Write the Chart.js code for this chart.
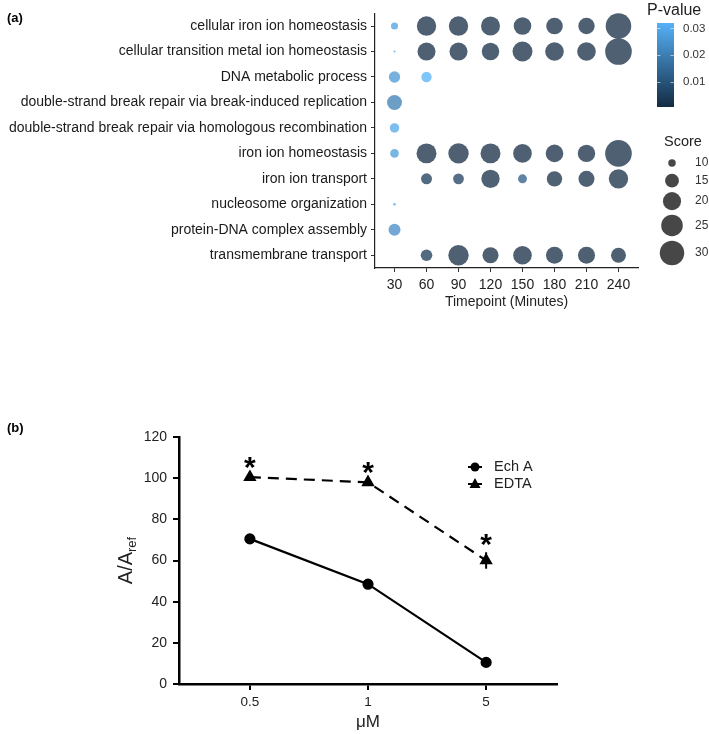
<!DOCTYPE html>
<html>
<head>
<meta charset="utf-8">
<script src="https://cdn.jsdelivr.net/npm/chart.js@4.4.0/dist/chart.umd.min.js"></script>
<style>
  html, body { margin: 0; padding: 0; background: #fff; }
  #wrap { position: relative; width: 709px; height: 734px; }
  #chartA { position: absolute; left: 0; top: 0; }
  #chartB { position: absolute; left: 0; top: 410px; }
</style>
</head>
<body>
<div id="wrap">
  <canvas id="chartA" width="709" height="312" style="width:709px;height:312px"></canvas>
  <canvas id="chartB" width="709" height="324" style="width:709px;height:324px"></canvas>
</div>
<script>
// ---- Panel (a) data: GO terms enrichment over time
const terms = [
    'cellular iron ion homeostasis',
    'cellular transition metal ion homeostasis',
    'DNA metabolic process',
    'double-strand break repair via break-induced replication',
    'double-strand break repair via homologous recombination',
    'iron ion homeostasis',
    'iron ion transport',
    'nucleosome organization',
    'protein-DNA complex assembly',
    'transmembrane transport'
];
const timepoints = [30, 60, 90, 120, 150, 180, 210, 240];
const scores = [
    [9.8, 21.8, 21.8, 21.2, 19.3, 18.1, 17.8, 32],
    [8.1, 19.9, 19.9, 19.1, 22.6, 20.7, 20.7, 34],
    [12.7, 11.9, null, null, null, null, null, null],
    [16.2, null, null, null, null, null, null, null],
    [11.2, null, null, null, null, null, null, null],
    [10.7, 22.6, 23.2, 22.6, 20.7, 19.3, 19.1, 34],
    [null, 12.4, 12.2, 20.4, 10.9, 16.7, 17.4, 21.8],
    [8.2, null, null, null, null, null, null, null],
    [13.2, null, null, null, null, null, null, null],
    [null, 12.9, 23.2, 17.4, 20.7, 18.6, 18.6, 16.2]
];
const pvalues = [
    [0.028, 0.0005, 0.0005, 0.0005, 0.0005, 0.0005, 0.0005, 0.0005],
    [0.030, 0.0005, 0.0005, 0.0005, 0.0005, 0.0005, 0.0005, 0.0005],
    [0.026, 0.032, null, null, null, null, null, null],
    [0.020, null, null, null, null, null, null, null],
    [0.030, null, null, null, null, null, null, null],
    [0.027, 0.0005, 0.0005, 0.0005, 0.0005, 0.0005, 0.0005, 0.0005],
    [null, 0.004, 0.005, 0.001, 0.012, 0.001, 0.001, 0.001],
    [0.030, null, null, null, null, null, null, null],
    [0.023, null, null, null, null, null, null, null],
    [null, 0.004, 0.0005, 0.0005, 0.0005, 0.0005, 0.0005, 0.0005]
];
const scoreBreaks = [10, 15, 20, 25, 30];
const pBreaks = [0.01, 0.02, 0.03];

// ---- Panel (b) data
const doses = ['0.5', '1', '5'];
const echA = [70.5, 48.5, 10.5];
const edta = [100.5, 98, 60];
const edtaErr = [0.8, 1.2, 4];
const edtaSig = [true, true, true];

const FONT = "'Liberation Sans', Arial, Helvetica, sans-serif";
const LOW = [19, 43, 67];     // #132B43
const HIGH = [86, 177, 247];  // #56B1F7

const allP = pvalues.flat().filter(v => v != null);
const pMin = Math.min(...allP);
const pMax = Math.max(...allP);

function scoreRadius(s) {
    return Math.sqrt(Math.max(6.8 * s - 54, 1));
}

function pColor(p, alpha) {
    const t = Math.min(1, Math.max(0, (p - pMin) / (pMax - pMin)));
    const c = LOW.map((v, k) => Math.round(v + (HIGH[k] - v) * t));
    return `rgba(${c[0]},${c[1]},${c[2]},${alpha})`;
}

const bubbles = [];
terms.forEach((term, i) => {
    timepoints.forEach((t, j) => {
        const s = scores[i][j];
        if (s == null) return;
        bubbles.push({ x: t, y: term, r: scoreRadius(s), p: pvalues[i][j] });
    });
});

// legends for panel (a): colour bar + size keys
const legendA = {
    id: 'legendA',
    afterDraw(chart) {
        const ctx = chart.ctx;
        ctx.save();
        ctx.fillStyle = '#000';
        ctx.textBaseline = 'middle';
        ctx.textAlign = 'left';
        ctx.font = `bold 13px ${FONT}`;
        ctx.fillText('(a)', 7, 18);

        // P-value colour bar
        const bx = 657, bw = 17, top = 23, bottom = 107;
        const py = p => bottom - (p - pMin) / (pMax - pMin) * (bottom - top);
        ctx.font = `16px ${FONT}`;
        ctx.fillStyle = '#222';
        ctx.fillText('P-value', 647, 11);
        const grad = ctx.createLinearGradient(0, bottom, 0, top);
        for (let k = 0; k <= 10; k++) {
            grad.addColorStop(k / 10, pColor(pMin + (pMax - pMin) * k / 10, 1));
        }
        ctx.fillStyle = grad;
        ctx.fillRect(bx, top, bw, bottom - top);
        ctx.strokeStyle = 'rgba(255,255,255,0.55)';
        ctx.lineWidth = 1;
        ctx.font = `11.5px ${FONT}`;
        ctx.fillStyle = '#333';
        pBreaks.forEach(b => {
            const y = Math.round(py(b)) + 0.5;
            ctx.beginPath();
            ctx.moveTo(bx, y); ctx.lineTo(bx + 3.5, y);
            ctx.moveTo(bx + bw - 3.5, y); ctx.lineTo(bx + bw, y);
            ctx.stroke();
            ctx.fillText(b.toFixed(2), 683, py(b));
        });

        // Score size keys
        ctx.font = `14.5px ${FONT}`;
        ctx.fillStyle = '#222';
        ctx.fillText('Score', 664, 142);
        let y = 154.5;
        let prevH = 0;
        scoreBreaks.forEach((s, k) => {
            const r = scoreRadius(s);
            const h = Math.max(17, 2 * r + 4.5);
            y += k === 0 ? 8.5 : (prevH + h) / 2;
            prevH = h;
            ctx.fillStyle = 'rgba(0,0,0,0.72)';
            ctx.beginPath();
            ctx.arc(672, y, r, 0, Math.PI * 2);
            ctx.fill();
            ctx.fillStyle = '#333';
            ctx.font = `12px ${FONT}`;
            ctx.fillText(String(s), 695, y);
        });
        ctx.restore();
    }
};

new Chart(document.getElementById('chartA'), {
    type: 'bubble',
    data: {
        datasets: [{
            data: bubbles,
            backgroundColor: c => pColor(c.raw.p, 0.75),
            borderWidth: 0,
            clip: false
        }]
    },
    options: {
        responsive: false,
        animation: false,
        events: [],
        layout: { padding: { left: 0, right: 71, top: 3, bottom: 1 } },
        plugins: { legend: { display: false }, tooltip: { enabled: false } },
        scales: {
            x: {
                type: 'linear',
                min: 11.7,
                max: 258.3,
                afterBuildTicks: s => { s.ticks = timepoints.map(v => ({ value: v })); },
                afterFit: s => { s.height = 43; },
                grid: { drawOnChartArea: false, tickLength: 4, color: '#333', lineWidth: 1 },
                border: { color: '#222', width: 1.2 },
                ticks: { font: { family: FONT, size: 14 }, color: '#222', padding: 5, maxRotation: 0, autoSkip: false },
                title: { display: true, text: 'Timepoint (Minutes)', font: { family: FONT, size: 14 }, color: '#222', padding: 0 }
            },
            y: {
                type: 'category',
                labels: terms,
                offset: true,
                afterFit: s => { s.width = 375; },
                grid: { drawOnChartArea: false, offset: false, tickLength: 4, color: '#333', lineWidth: 1 },
                border: { color: '#222', width: 1.2 },
                ticks: { font: { family: FONT, size: 14 }, color: '#1a1a1a', padding: 4, autoSkip: false }
            }
        }
    },
    plugins: [legendA]
});

// error bar, significance stars, legend and titles for panel (b)
const marksB = {
    id: 'marksB',
    afterDatasetsDraw(chart) {
        const { ctx, scales: { x, y } } = chart;
        ctx.save();
        ctx.strokeStyle = '#000';
        ctx.fillStyle = '#000';
        ctx.lineWidth = 2;
        edta.forEach((v, i) => {
            const px = x.getPixelForValue(i);
            const yTop = y.getPixelForValue(v + edtaErr[i]);
            ctx.beginPath();
            ctx.moveTo(px, y.getPixelForValue(v - edtaErr[i]));
            ctx.lineTo(px, yTop);
            ctx.stroke();
            if (edtaSig[i]) {
                ctx.font = `bold 30px ${FONT}`;
                ctx.textAlign = 'center';
                ctx.textBaseline = 'alphabetic';
                ctx.fillText('*', px, yTop + 2);
            }
        });
        ctx.restore();
    },
    afterDraw(chart) {
        const ctx = chart.ctx;
        const area = chart.chartArea;
        ctx.save();
        ctx.fillStyle = '#000';
        ctx.textAlign = 'left';
        ctx.textBaseline = 'middle';
        ctx.font = `bold 13px ${FONT}`;
        ctx.fillText('(b)', 7, 18);

        // legend
        const lx = 475;
        const items = [
            { label: 'Ech A', y: 57, style: 'circle' },
            { label: 'EDTA', y: 74, style: 'triangle' }
        ];
        items.forEach(it => {
            ctx.strokeStyle = '#000';
            ctx.lineWidth = 2;
            ctx.beginPath();
            ctx.moveTo(lx - 7, it.y); ctx.lineTo(lx + 7, it.y);
            ctx.stroke();
            ctx.beginPath();
            if (it.style === 'circle') {
                ctx.arc(lx, it.y, 4.5, 0, Math.PI * 2);
            } else {
                ctx.moveTo(lx, it.y - 6); ctx.lineTo(lx + 5.5, it.y + 4); ctx.lineTo(lx - 5.5, it.y + 4);
                ctx.closePath();
            }
            ctx.fill();
            ctx.fillStyle = '#222';
            ctx.font = `14.5px ${FONT}`;
            ctx.fillText(it.label, 494, it.y);
            ctx.fillStyle = '#000';
        });

        // y axis title A/A_ref
        const big = `20px ${FONT}`, small = `13px ${FONT}`;
        ctx.font = big;
        const w1 = ctx.measureText('A/A').width;
        ctx.font = small;
        const w2 = ctx.measureText('ref').width;
        ctx.translate(132, (area.top + area.bottom) / 2);
        ctx.rotate(-Math.PI / 2);
        ctx.textBaseline = 'alphabetic';
        ctx.fillStyle = '#222';
        const x0 = -(w1 + w2) / 2;
        ctx.font = big;
        ctx.fillText('A/A', x0, 0);
        ctx.font = small;
        ctx.fillText('ref', x0 + w1, 4);
        ctx.restore();
    }
};

const toPts = arr => arr.map((v, i) => ({ x: i, y: v }));

new Chart(document.getElementById('chartB'), {
    type: 'line',
    data: {
        datasets: [{
            label: 'Ech A',
            data: toPts(echA),
            borderColor: '#000',
            backgroundColor: '#000',
            borderWidth: 2.2,
            pointStyle: 'circle',
            pointRadius: 4.5,
            tension: 0
        }, {
            label: 'EDTA',
            data: toPts(edta),
            borderColor: '#000',
            backgroundColor: '#000',
            borderWidth: 2.2,
            borderDash: [11, 7],
            pointStyle: 'triangle',
            pointRadius: 5.5,
            tension: 0
        }]
    },
    options: {
        responsive: false,
        animation: false,
        events: [],
        layout: { padding: { left: 0, right: 152, top: 27, bottom: 1 } },
        plugins: { legend: { display: false }, tooltip: { enabled: false } },
        scales: {
            x: {
                type: 'linear',
                min: -0.6,
                max: 2.6,
                afterBuildTicks: s => { s.ticks = doses.map((d, i) => ({ value: i })); },
                afterFit: s => { s.height = 49; },
                grid: { drawOnChartArea: false, tickLength: 6, color: '#000', lineWidth: 2 },
                border: { color: '#000', width: 2.5 },
                ticks: { callback: v => doses[v], font: { family: FONT, size: 13.5 }, color: '#222', padding: 4, maxRotation: 0 },
                title: { display: true, text: 'μM', font: { family: FONT, size: 17 }, color: '#222', padding: 0 }
            },
            y: {
                min: 0,
                max: 120,
                afterFit: s => { s.width = 179; },
                grid: { drawOnChartArea: false, tickLength: 6, color: '#000', lineWidth: 2 },
                border: { color: '#000', width: 2.5 },
                ticks: { stepSize: 20, font: { family: FONT, size: 14 }, color: '#222', padding: 6 }
            }
        }
    },
    plugins: [marksB]
});
</script>
</body>
</html>
